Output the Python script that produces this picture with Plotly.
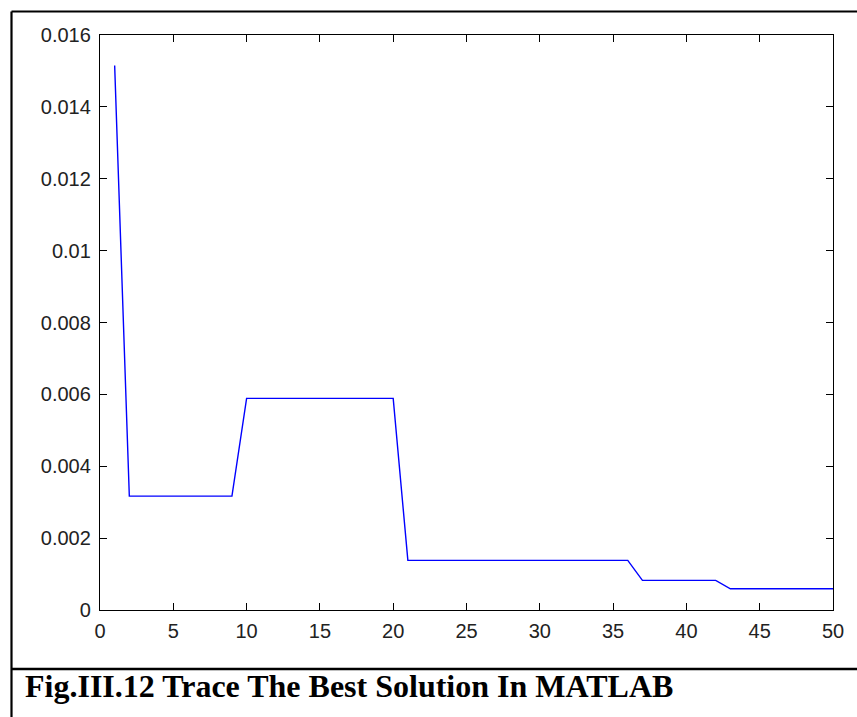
import plotly.graph_objects as go

# ---- data ----
iterations = list(range(1, 51))
best_value = (
    [0.01515]
    + [0.00317] * 8      # 2..9
    + [0.00589] * 11     # 10..20
    + [0.00138] * 16     # 21..36
    + [0.000825] * 6     # 37..42
    + [0.00059] * 8      # 43..50
)
x_ticks = [0, 5, 10, 15, 20, 25, 30, 35, 40, 45, 50]
y_ticks = [0, 0.002, 0.004, 0.006, 0.008, 0.01, 0.012, 0.014, 0.016]
y_tick_labels = ["0", "0.002", "0.004", "0.006", "0.008", "0.01", "0.012", "0.014", "0.016"]
caption = "Fig.III.12 Trace The Best Solution In MATLAB"

W, H = 857, 717
L, R, T, B = 100, 24, 35, 107
PW = W - L - R
PH = H - T - B


def px(x):
    return (x - L) / PW


def py(y):
    return (H - B - y) / PH


fig = go.Figure()
fig.add_trace(go.Scatter(
    x=iterations, y=best_value, mode="lines",
    line=dict(color="#0000ff", width=1.4),
    showlegend=False, hoverinfo="skip",
))

axis_common = dict(
    showgrid=False, zeroline=False, showline=True, linecolor="black",
    linewidth=1.3, mirror="ticks", ticks="inside", ticklen=7,
    tickcolor="black", tickwidth=1.3,
    tickfont=dict(family="Liberation Sans, Arial", size=20, color="#222222"),
)

fig.update_xaxes(range=[0, 50], tickvals=x_ticks,
                 ticktext=[str(v) for v in x_ticks], ticklabelstandoff=3,
                 **axis_common)
fig.update_yaxes(range=[0, 0.016], tickvals=y_ticks, ticktext=y_tick_labels,
                 ticklabelstandoff=4, **axis_common)

shapes = [
    # outer frame: left and top
    dict(type="line", xref="paper", yref="paper",
         x0=px(11.5), x1=px(11.5), y0=py(11.5), y1=py(H + 5),
         line=dict(color="black", width=2.2)),
    dict(type="line", xref="paper", yref="paper",
         x0=px(11.5), x1=px(W + 5), y0=py(11.5), y1=py(11.5),
         line=dict(color="black", width=2.2)),
    # separator above caption
    dict(type="line", xref="paper", yref="paper",
         x0=px(11.5), x1=px(W + 5), y0=py(669), y1=py(669),
         line=dict(color="black", width=2.5)),
]

fig.add_annotation(
    text="<b>" + caption + "</b>", xref="paper", yref="paper",
    x=px(23), y=py(686), xanchor="left", yanchor="middle",
    showarrow=False,
    font=dict(family="Liberation Serif, Times New Roman", size=32, color="black"),
)

fig.update_layout(
    width=W, height=H,
    margin=dict(l=L, r=R, t=T, b=B),
    paper_bgcolor="white", plot_bgcolor="white",
    shapes=shapes,
)

fig.write_html("out.html", config={"displayModeBar": False})
